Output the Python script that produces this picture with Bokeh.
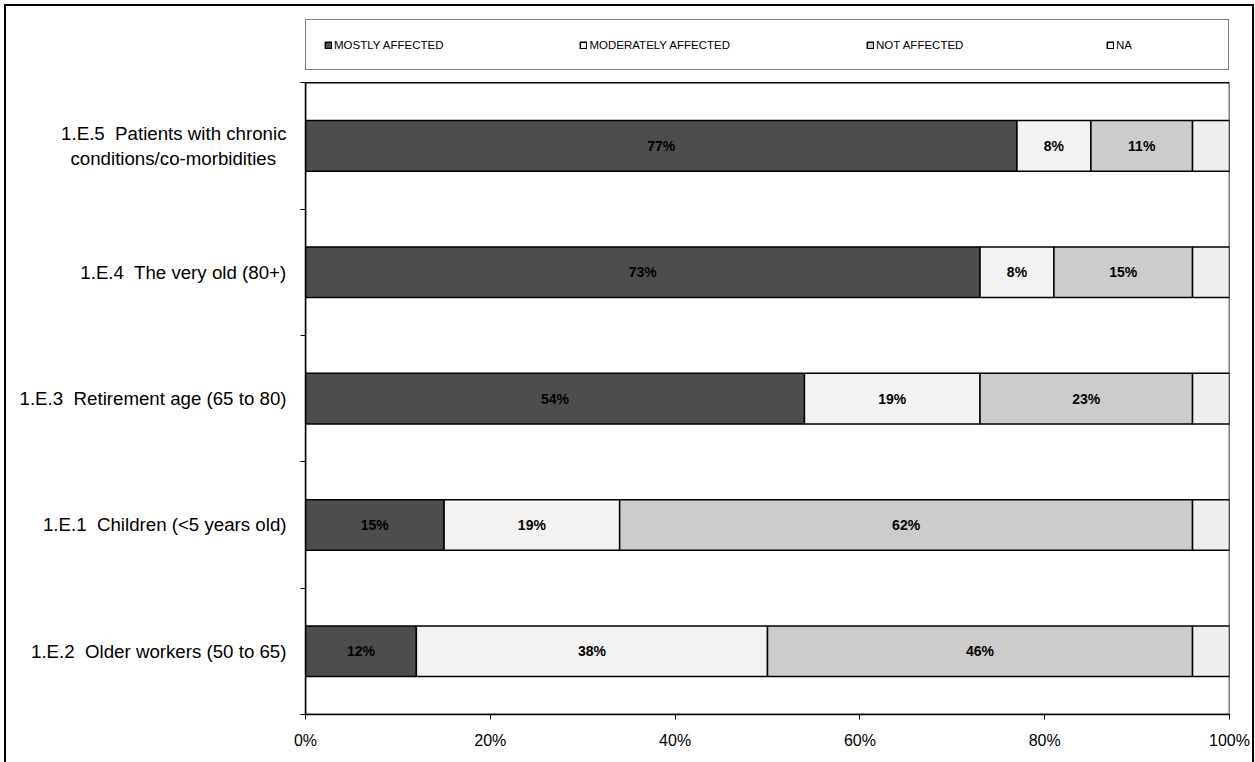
from bokeh.plotting import figure
from bokeh.models import Range1d, FixedTicker, Legend, LegendItem
from bokeh.core.properties import value
from bokeh.embed import file_html
from bokeh.resources import INLINE

categories = [
    "1.E.5\u00a0 Patients with chronic\nconditions/co-morbidities\u00a0\u00a0",
    "1.E.4\u00a0 The very old (80+)",
    "1.E.3\u00a0 Retirement age (65 to 80)",
    "1.E.1\u00a0 Children (<5 years old)",
    "1.E.2\u00a0 Older workers (50 to 65)",
]
series_names = ["MOSTLY AFFECTED", "MODERATELY AFFECTED", "NOT AFFECTED", "NA"]
mostly_affected = [77, 73, 54, 15, 12]
moderately_affected = [8, 8, 19, 19, 38]
not_affected = [11, 15, 23, 62, 46]
na = [4, 4, 4, 4, 4]
x_ticks = [0, 20, 40, 60, 80, 100]
x_tick_labels = ["0%", "20%", "40%", "60%", "80%", "100%"]

colors = ["#4d4d4d", "#f2f2f2", "#cccccc", "#eeeeee"]
FONT = "Liberation Sans"

series = [mostly_affected, moderately_affected, not_affected, na]
n = len(categories)
ypos = [n - 0.5 - i for i in range(n)]

# plot area is 630 px tall; the frame also holds the legend strip above it (706 px total)
PLOT_PX, FRAME_PX = 630, 706

p = figure(
    width=1250, height=758,
    output_backend="svg", toolbar_location=None,
    x_range=Range1d(x_ticks[0], x_ticks[-1]),
    y_range=Range1d(0, n * FRAME_PX / PLOT_PX),
    min_border_left=299, min_border_right=27,
    min_border_top=0, min_border_bottom=50,
)
p.styles = {
    "border-top": "2px solid #000",
    "border-left": "2px solid #000",
    "border-right": "2px solid #000",
    "margin-left": "4px",
    "margin-top": "4px",
}
p.background_fill_color = "white"
p.border_fill_color = "white"
p.outline_line_color = None
p.xgrid.visible = False
p.ygrid.visible = False

# plot-area box
p.quad(left=[x_ticks[0]], right=[x_ticks[-1]], bottom=[0], top=[n],
       fill_alpha=0, line_color="black", line_width=1.5)

renderers = []
lefts = [0] * n
for k, vals in enumerate(series):
    rights = [l + v for l, v in zip(lefts, vals)]
    r = p.hbar(y=ypos, left=lefts, right=rights, height=0.4,
               fill_color=colors[k], line_color="black", line_width=1.5)
    renderers.append(r)
    if series_names[k] != "NA":
        centers = [(l + rr) / 2 for l, rr in zip(lefts, rights)]
        labels = [f"{v}%" for v in vals]
        p.text(x=centers, y=ypos, text=labels, text_align="center",
               text_baseline="middle", text_font=value(FONT),
               text_font_style="bold", text_font_size="14px", text_color="black")
    lefts = rights

legend = Legend(
    items=[LegendItem(label=name, renderers=[r]) for name, r in zip(series_names, renderers)],
    orientation="horizontal", location=(0, 644),
    padding=18, spacing=136, margin=0,
    glyph_width=8, glyph_height=8, label_standoff=2,
    label_width=94, label_height=13,
    label_text_font=FONT, label_text_font_size="11.5px", label_text_color="black",
    border_line_color="black", border_line_width=1.5,
    background_fill_color="white", background_fill_alpha=1.0,
)
p.add_layout(legend, "center")

# x axis
p.xaxis.ticker = FixedTicker(ticks=x_ticks, minor_ticks=[])
p.xaxis.major_label_overrides = {t: lab for t, lab in zip(x_ticks, x_tick_labels)}
p.xaxis.major_label_text_font = FONT
p.xaxis.major_label_text_font_size = "16px"
p.xaxis.major_label_text_color = "black"
p.xaxis.axis_line_color = "black"
p.xaxis.axis_line_width = 1.5
p.xaxis.major_tick_line_color = "black"
p.xaxis.major_tick_out = 5
p.xaxis.major_tick_in = 0
p.xaxis.major_label_standoff = 12

# y axis
p.yaxis.bounds = (0, n)
p.yaxis.ticker = FixedTicker(ticks=ypos, minor_ticks=list(range(n + 1)))
p.yaxis.major_label_overrides = {y: c for y, c in zip(ypos, categories)}
p.yaxis.major_label_text_font = FONT
p.yaxis.major_label_text_font_size = "18.7px"
p.yaxis.major_label_text_color = "black"
p.yaxis.axis_line_color = "black"
p.yaxis.axis_line_width = 1.5
p.yaxis.major_tick_line_color = None
p.yaxis.major_tick_out = 0
p.yaxis.major_tick_in = 0
p.yaxis.minor_tick_line_color = "black"
p.yaxis.minor_tick_out = 5
p.yaxis.minor_tick_in = 0
p.yaxis.major_label_standoff = 14

open("out.html", "w").write(file_html(p, INLINE))
